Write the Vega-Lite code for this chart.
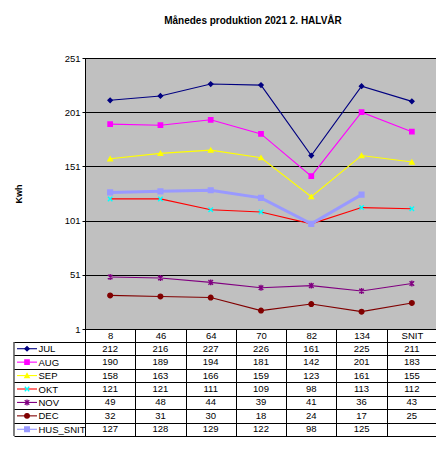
{
  "$schema": "https://vega.github.io/schema/vega-lite/v6.json",
  "description": "Månedes produktion 2021 2. halvår, linjediagram med datatabel.",
  "padding": {"left": 12, "top": 15, "right": 0, "bottom": 0},
  "background": "white",
  "datasets": {
    "prod": [
      {"serie": "JUL", "kat": "8", "kwh": 212},
      {"serie": "JUL", "kat": "46", "kwh": 216},
      {"serie": "JUL", "kat": "64", "kwh": 227},
      {"serie": "JUL", "kat": "70", "kwh": 226},
      {"serie": "JUL", "kat": "82", "kwh": 161},
      {"serie": "JUL", "kat": "134", "kwh": 225},
      {"serie": "JUL", "kat": "SNIT", "kwh": 211},
      {"serie": "AUG", "kat": "8", "kwh": 190},
      {"serie": "AUG", "kat": "46", "kwh": 189},
      {"serie": "AUG", "kat": "64", "kwh": 194},
      {"serie": "AUG", "kat": "70", "kwh": 181},
      {"serie": "AUG", "kat": "82", "kwh": 142},
      {"serie": "AUG", "kat": "134", "kwh": 201},
      {"serie": "AUG", "kat": "SNIT", "kwh": 183},
      {"serie": "SEP", "kat": "8", "kwh": 158},
      {"serie": "SEP", "kat": "46", "kwh": 163},
      {"serie": "SEP", "kat": "64", "kwh": 166},
      {"serie": "SEP", "kat": "70", "kwh": 159},
      {"serie": "SEP", "kat": "82", "kwh": 123},
      {"serie": "SEP", "kat": "134", "kwh": 161},
      {"serie": "SEP", "kat": "SNIT", "kwh": 155},
      {"serie": "OKT", "kat": "8", "kwh": 121},
      {"serie": "OKT", "kat": "46", "kwh": 121},
      {"serie": "OKT", "kat": "64", "kwh": 111},
      {"serie": "OKT", "kat": "70", "kwh": 109},
      {"serie": "OKT", "kat": "82", "kwh": 98},
      {"serie": "OKT", "kat": "134", "kwh": 113},
      {"serie": "OKT", "kat": "SNIT", "kwh": 112},
      {"serie": "NOV", "kat": "8", "kwh": 49},
      {"serie": "NOV", "kat": "46", "kwh": 48},
      {"serie": "NOV", "kat": "64", "kwh": 44},
      {"serie": "NOV", "kat": "70", "kwh": 39},
      {"serie": "NOV", "kat": "82", "kwh": 41},
      {"serie": "NOV", "kat": "134", "kwh": 36},
      {"serie": "NOV", "kat": "SNIT", "kwh": 43},
      {"serie": "DEC", "kat": "8", "kwh": 32},
      {"serie": "DEC", "kat": "46", "kwh": 31},
      {"serie": "DEC", "kat": "64", "kwh": 30},
      {"serie": "DEC", "kat": "70", "kwh": 18},
      {"serie": "DEC", "kat": "82", "kwh": 24},
      {"serie": "DEC", "kat": "134", "kwh": 17},
      {"serie": "DEC", "kat": "SNIT", "kwh": 25},
      {"serie": "HUS_SNIT", "kat": "8", "kwh": 127},
      {"serie": "HUS_SNIT", "kat": "46", "kwh": 128},
      {"serie": "HUS_SNIT", "kat": "64", "kwh": 129},
      {"serie": "HUS_SNIT", "kat": "70", "kwh": 122},
      {"serie": "HUS_SNIT", "kat": "82", "kwh": 98},
      {"serie": "HUS_SNIT", "kat": "134", "kwh": 125}
    ]
  },
  "data": {"name": "prod"},
  "spacing": 13,
  "bounds": "flush",
  "vconcat": [
    {
      "width": 352,
      "height": 271,
      "title": {
        "text": "Månedes produktion 2021 2. HALVÅR",
        "font": "Liberation Sans",
        "fontSize": 10,
        "fontWeight": "bold",
        "color": "black",
        "offset": 27,
        "dx": -8
      },
      "view": {"fill": "#C0C0C0", "stroke": "black", "strokeWidth": 1},
      "encoding": {
        "x": {
          "field": "kat",
          "type": "ordinal",
          "scale": {"domain": ["8", "46", "64", "70", "82", "134", "SNIT"]},
          "axis": null
        },
        "y": {
          "field": "kwh",
          "type": "quantitative",
          "scale": {"domain": [1, 251], "nice": false, "zero": false},
          "axis": {
            "values": [1, 51, 101, 151, 201, 251],
            "title": "Kwh",
            "titleFont": "Liberation Sans",
            "titleFontSize": 9,
            "titleFontWeight": "bold",
            "titleColor": "black",
            "titlePadding": 41,
            "grid": true,
            "gridColor": "black",
            "gridOpacity": 1,
            "gridWidth": 1,
            "tickColor": "black",
            "tickSize": 3,
            "domainColor": "black",
            "labelFont": "Liberation Sans",
            "labelFontSize": 9.5,
            "labelColor": "black",
            "labelPadding": 2
          }
        }
      },
      "layer": [
        {
          "transform": [{"filter": "datum.serie != 'HUS_SNIT'"}],
          "mark": {"type": "line", "strokeWidth": 1.1},
          "encoding": {
            "stroke": {
              "field": "serie",
              "type": "nominal",
              "scale": {
                "domain": ["JUL", "AUG", "SEP", "OKT", "NOV", "DEC", "HUS_SNIT"],
                "range": ["#000080", "#FF00FF", "#FFFF00", "#FF0000", "#800080", "#800000", "#9999FF"]
              },
              "legend": null
            }
          }
        },
        {
          "transform": [{"filter": "datum.serie == 'HUS_SNIT'"}],
          "mark": {"type": "line", "strokeWidth": 3, "stroke": "#9999FF"}
        },
        {
          "mark": {"type": "point", "filled": true, "opacity": 1, "strokeWidth": 1.4},
          "encoding": {
            "fill": {
              "field": "serie",
              "type": "nominal",
              "scale": {
                "domain": ["JUL", "AUG", "SEP", "OKT", "NOV", "DEC", "HUS_SNIT"],
                "range": ["#000080", "#FF00FF", "#FFFF00", "#00FFFF", "#800080", "#800000", "#9999FF"]
              },
              "legend": null
            },
            "stroke": {
              "field": "serie",
              "type": "nominal",
              "scale": {
                "domain": ["JUL", "AUG", "SEP", "OKT", "NOV", "DEC", "HUS_SNIT"],
                "range": ["#000080", "#FF00FF", "#FFFF00", "#00FFFF", "#800080", "#800000", "#9999FF"]
              },
              "legend": null
            },
            "shape": {
              "field": "serie",
              "type": "nominal",
              "scale": {
                "domain": ["JUL", "AUG", "SEP", "OKT", "NOV", "DEC", "HUS_SNIT"],
                "range": ["diamond", "square", "triangle-up", "M-1,-1L1,1M-1,1L1,-1", "M-1,-1L1,1M-1,1L1,-1M0,-1.3L0,1.3", "circle", "square"]
              },
              "legend": null
            },
            "size": {
              "field": "serie",
              "type": "nominal",
              "scale": {
                "domain": ["JUL", "AUG", "SEP", "OKT", "NOV", "DEC", "HUS_SNIT"],
                "range": [18, 22, 20, 26, 26, 18, 46]
              },
              "legend": null
            }
          }
        }
      ],
      "resolve": {"scale": {"stroke": "independent"}}
    },
    {
      "width": 352,
      "height": 94,
      "view": {"fill": "white", "stroke": "black", "strokeWidth": 1},
      "encoding": {
        "y": {
          "field": "serie",
          "type": "nominal",
          "scale": {
            "domain": ["JUL", "AUG", "SEP", "OKT", "NOV", "DEC", "HUS_SNIT"],
            "paddingInner": 0,
            "paddingOuter": 0
          },
          "axis": {
            "title": null,
            "tickBand": "extent",
            "tickSize": 71,
            "tickColor": "black",
            "domain": false,
            "grid": true,
            "gridColor": "black",
            "gridOpacity": 1,
            "labelAlign": "left",
            "labelPadding": -24,
            "labelFont": "Liberation Sans",
            "labelFontSize": 9.5,
            "labelColor": "black"
          }
        }
      },
      "layer": [
        {
          "mark": {"type": "text", "font": "Liberation Sans", "fontSize": 9.5, "color": "black"},
          "encoding": {
            "x": {
              "field": "kat",
              "type": "ordinal",
              "scale": {
                "domain": ["8", "46", "64", "70", "82", "134", "SNIT"],
                "paddingInner": 0,
                "paddingOuter": 0
              },
              "axis": {
                "orient": "top",
                "title": null,
                "tickBand": "extent",
                "tickSize": 13,
                "tickColor": "black",
                "domain": false,
                "grid": true,
                "gridColor": "black",
                "gridOpacity": 1,
                "labelAngle": 0,
                "labelPadding": -11,
                "labelFont": "Liberation Sans",
                "labelFontSize": 9.5,
                "labelColor": "black"
              }
            },
            "text": {"field": "kwh", "type": "quantitative"}
          }
        },
        {
          "transform": [{"filter": "datum.kat == '8'"}],
          "mark": {"type": "rule"},
          "encoding": {
            "x": {"datum": -1.352, "type": "quantitative", "scale": {"domain": [0, 7], "nice": false, "zero": false}, "axis": null},
            "x2": {"datum": -0.954},
            "stroke": {
              "field": "serie",
              "type": "nominal",
              "scale": {
                "domain": ["JUL", "AUG", "SEP", "OKT", "NOV", "DEC", "HUS_SNIT"],
                "range": ["#000080", "#FF00FF", "#FFFF00", "#FF0000", "#800080", "#800000", "#9999FF"]
              },
              "legend": null
            },
            "strokeWidth": {
              "field": "serie",
              "type": "nominal",
              "scale": {
                "domain": ["JUL", "AUG", "SEP", "OKT", "NOV", "DEC", "HUS_SNIT"],
                "range": [1.1, 1.1, 1.1, 1.1, 1.1, 1.1, 3]
              },
              "legend": null
            }
          }
        },
        {
          "transform": [{"filter": "datum.kat == '8'"}],
          "mark": {"type": "point", "filled": true, "opacity": 1, "strokeWidth": 1.3},
          "encoding": {
            "x": {"datum": -1.153, "type": "quantitative", "scale": {"domain": [0, 7], "nice": false, "zero": false}, "axis": null},
            "fill": {
              "field": "serie",
              "type": "nominal",
              "scale": {
                "domain": ["JUL", "AUG", "SEP", "OKT", "NOV", "DEC", "HUS_SNIT"],
                "range": ["#000080", "#FF00FF", "#FFFF00", "#00FFFF", "#800080", "#800000", "#9999FF"]
              },
              "legend": null
            },
            "stroke": {
              "field": "serie",
              "type": "nominal",
              "scale": {
                "domain": ["JUL", "AUG", "SEP", "OKT", "NOV", "DEC", "HUS_SNIT"],
                "range": ["#000080", "#FF00FF", "#FFFF00", "#00FFFF", "#800080", "#800000", "#9999FF"]
              },
              "legend": null
            },
            "shape": {
              "field": "serie",
              "type": "nominal",
              "scale": {
                "domain": ["JUL", "AUG", "SEP", "OKT", "NOV", "DEC", "HUS_SNIT"],
                "range": ["diamond", "square", "triangle-up", "M-1,-1L1,1M-1,1L1,-1", "M-1,-1L1,1M-1,1L1,-1M0,-1.3L0,1.3", "circle", "square"]
              },
              "legend": null
            },
            "size": {
              "field": "serie",
              "type": "nominal",
              "scale": {
                "domain": ["JUL", "AUG", "SEP", "OKT", "NOV", "DEC", "HUS_SNIT"],
                "range": [18, 25, 22, 24, 24, 20, 36]
              },
              "legend": null
            }
          }
        },
        {
          "transform": [{"filter": "datum.kat == '8' && datum.serie == 'JUL'"}],
          "mark": {"type": "rule", "color": "black", "strokeWidth": 1},
          "encoding": {
            "x": {"datum": -1.412, "type": "quantitative", "scale": {"domain": [0, 7], "nice": false, "zero": false}, "axis": null},
            "y": null
          }
        }
      ],
      "resolve": {"scale": {"x": "independent", "stroke": "independent", "fill": "independent"}}
    }
  ]
}
